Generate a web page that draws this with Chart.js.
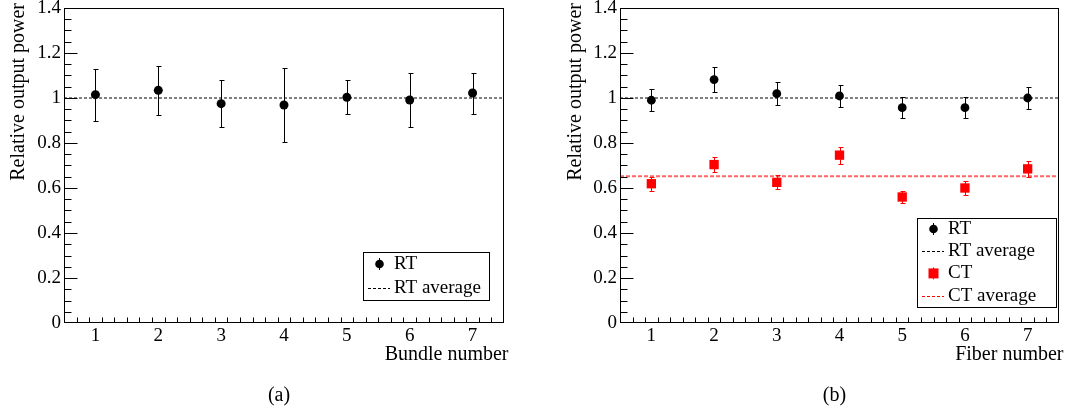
<!DOCTYPE html>
<html><head><meta charset="utf-8">
<script src="https://cdn.jsdelivr.net/npm/chart.js@4.4.1/dist/chart.umd.min.js"></script>
<style>
html,body{margin:0;padding:0;background:#fff;}
#wrap{position:relative;width:1069px;height:412px;overflow:hidden;background:#fff;}
canvas{position:absolute;top:0;}
#ca{left:0;} #cb{left:535px;}
</style></head><body>
<div id="wrap"><canvas id="ca" width="535" height="412"></canvas><canvas id="cb" width="534" height="412"></canvas></div>
<script>
// ---- data (a): bundles ----
const bundleNumbers = [1, 2, 3, 4, 5, 6, 7];
const bundleRT = [1.015, 1.034, 0.975, 0.969, 1.003, 0.991, 1.022];
const bundleRTErr = [0.115, 0.109, 0.105, 0.164, 0.076, 0.118, 0.091];
const bundleRTAverage = 1.0;

// ---- data (b): fibers ----
const fiberNumbers = [1, 2, 3, 4, 5, 6, 7];
const fiberRT = [0.990, 1.082, 1.019, 1.009, 0.957, 0.957, 1.000];
const fiberRTErr = [0.048, 0.055, 0.051, 0.050, 0.047, 0.047, 0.050];
const fiberCT = [0.619, 0.704, 0.625, 0.746, 0.560, 0.600, 0.685];
const fiberCTErr = [0.031, 0.035, 0.031, 0.038, 0.028, 0.029, 0.034];
const fiberRTAverage = 1.0;
const fiberCTAverage = 0.652;

// ---- axes / text ----
const xTickValues = [1, 2, 3, 4, 5, 6, 7];
const xTickLabels = ['1', '2', '3', '4', '5', '6', '7'];
const yTickValues = [0, 0.2, 0.4, 0.6, 0.8, 1, 1.2, 1.4];
const yTickLabels = ['0', '0.2', '0.4', '0.6', '0.8', '1', '1.2', '1.4'];
const xRange = [0.5, 7.5];
const yRange = [0, 1.4];
const xMinorStep = 0.2;
const yMinorStep = 0.05;
const yAxisTitle = 'Relative output power';
const xTitleA = 'Bundle number';
const xTitleB = 'Fiber number';
const captionA = '(a)';
const captionB = '(b)';
const legendRT = 'RT';
const legendRTAvg = 'RT average';
const legendCT = 'CT';
const legendCTAvg = 'CT average';

const FONT = "'Liberation Serif', 'Times New Roman', serif";
const RED = '#ff0000';

function pts(xs, ys) { return xs.map((x, i) => ({x: x, y: ys[i]})); }

const rootPlugin = {
  id: 'rootStyle',
  beforeDatasetsDraw(chart, args, o) {
    const ctx = chart.ctx, xs = chart.scales.x, ys = chart.scales.y;
    ctx.save();
    (o.errorBars || []).forEach(eb => {
      ctx.strokeStyle = eb.color; ctx.lineWidth = 1;
      eb.x.forEach((xv, i) => {
        const px = Math.round(xs.getPixelForValue(xv)) + 0.5;
        const y1 = Math.round(ys.getPixelForValue(eb.y[i] - eb.err[i])) + 0.5;
        const y2 = Math.round(ys.getPixelForValue(eb.y[i] + eb.err[i])) + 0.5;
        ctx.beginPath();
        ctx.moveTo(px, y1); ctx.lineTo(px, y2);
        ctx.moveTo(px - 2, y1); ctx.lineTo(px + 3, y1);
        ctx.moveTo(px - 2, y2); ctx.lineTo(px + 3, y2);
        ctx.stroke();
      });
    });
    ctx.restore();
  },
  afterDraw(chart, args, o) {
    const ctx = chart.ctx, xs = chart.scales.x, ys = chart.scales.y;
    const a = chart.chartArea;
    const L = a.left + 0.5, R = a.right - 0.5, T = a.top + 0.5, B = a.bottom - 0.5;
    ctx.save();
    // frame
    ctx.strokeStyle = '#000'; ctx.lineWidth = 1;
    ctx.strokeRect(L, T, R - L, B - T);
    // x ticks
    ctx.beginPath();
    for (let v = xRange[0] + xMinorStep; v < xRange[1] - 1e-6; v += xMinorStep) {
      const isMajor = Math.abs(v - Math.round(v)) < 1e-6;
      const px = Math.round(xs.getPixelForValue(v)) + 0.5;
      ctx.moveTo(px, B); ctx.lineTo(px, B - (isMajor ? 9 : 5));
    }
    // y ticks
    for (let v = yRange[0] + yMinorStep; v < yRange[1] - 1e-6; v += yMinorStep) {
      const isMajor = Math.abs(v * 5 - Math.round(v * 5)) < 1e-6;
      const py = Math.round(ys.getPixelForValue(v)) + 0.5;
      ctx.moveTo(L, py); ctx.lineTo(L + (isMajor ? 13 : 7), py);
    }
    ctx.stroke();

    ctx.fillStyle = '#000';
    // y title
    ctx.save();
    ctx.font = '20px ' + FONT;
    ctx.translate(a.left - o.yTitleOffset, 3);
    ctx.rotate(-Math.PI / 2);
    ctx.textAlign = 'right'; ctx.textBaseline = 'alphabetic';
    ctx.fillText(yAxisTitle, 0, 0);
    ctx.restore();
    // x title
    ctx.font = '20px ' + FONT;
    ctx.textAlign = 'right'; ctx.textBaseline = 'alphabetic';
    ctx.fillText(o.xTitle, a.right + 4.5, 360);
    // caption
    ctx.textAlign = 'center'; ctx.textBaseline = 'middle';
    ctx.fillText(o.caption, (a.left + a.right) / 2 - 5, 396);

    // legend
    const lg = o.legend;
    ctx.fillStyle = '#fff';
    ctx.fillRect(lg.x, lg.y, lg.w, lg.h);
    ctx.strokeStyle = '#000'; ctx.lineWidth = 1;
    ctx.strokeRect(lg.x + 0.5, lg.y + 0.5, lg.w, lg.h);
    ctx.font = '19px ' + FONT;
    ctx.textAlign = 'left'; ctx.textBaseline = 'middle';
    lg.entries.forEach((e, i) => {
      const cy = lg.y + lg.first + i * lg.step;
      const mx = lg.x + 16.5;
      if (e.kind === 'circle' || e.kind === 'rect') {
        ctx.strokeStyle = e.color; ctx.lineWidth = 1;
        ctx.beginPath(); ctx.moveTo(mx, cy - 6); ctx.lineTo(mx, cy + 6); ctx.stroke();
        ctx.fillStyle = e.color;
        ctx.beginPath();
        if (e.kind === 'circle') ctx.arc(mx, cy, 4.3, 0, Math.PI * 2);
        else ctx.rect(mx - 5, cy - 5, 10, 10);
        ctx.fill();
      } else {
        ctx.strokeStyle = e.color; ctx.lineWidth = 1;
        ctx.setLineDash([3, 2]);
        ctx.beginPath(); ctx.moveTo(lg.x + 5, Math.round(cy) + 0.5); ctx.lineTo(lg.x + 27, Math.round(cy) + 0.5); ctx.stroke();
        ctx.setLineDash([]);
      }
      ctx.fillStyle = '#000';
      ctx.fillText(e.label, lg.x + 31, cy);
    });
    ctx.restore();
  }
};

function makeChart(canvas, datasets, plug, yWidth, padRight) {
  return new Chart(canvas, {
    type: 'scatter',
    data: { datasets: datasets },
    plugins: [rootPlugin],
    options: {
      responsive: false, animation: false, devicePixelRatio: 1, events: [],
      layout: { padding: { left: 0, right: padRight, top: 8, bottom: 0 } },
      plugins: { legend: { display: false }, tooltip: { enabled: false }, rootStyle: plug },
      scales: {
        x: {
          type: 'linear', min: xRange[0], max: xRange[1],
          grid: { display: false, drawTicks: false }, border: { display: false },
          afterBuildTicks: s => { s.ticks = xTickValues.map(v => ({ value: v })); },
          afterFit: s => { s.height = 89; s.paddingLeft = 0; s.paddingRight = 0; },
          ticks: {
            padding: 4, color: '#000', maxRotation: 0, autoSkip: false,
            font: { family: FONT, size: 19, lineHeight: 1 },
            callback: (v) => { const i = xTickValues.indexOf(v); return i >= 0 ? xTickLabels[i] : ''; }
          }
        },
        y: {
          type: 'linear', min: yRange[0], max: yRange[1],
          grid: { display: false, drawTicks: false }, border: { display: false },
          afterBuildTicks: s => { s.ticks = yTickValues.map(v => ({ value: v })); },
          afterFit: s => { s.width = yWidth; s.paddingTop = 0; s.paddingBottom = 0; },
          ticks: {
            padding: 3, color: '#000', autoSkip: false,
            font: { family: FONT, size: 19, lineHeight: 1 },
            callback: (v) => { const i = yTickValues.findIndex(t => Math.abs(t - v) < 1e-9); return i >= 0 ? yTickLabels[i] : ''; }
          }
        }
      }
    }
  });
}

function avgLine(val, color, width, dash) {
  return { type: 'line', data: [{x: xRange[0], y: val}, {x: xRange[1], y: val}],
    borderColor: color, borderWidth: width, borderDash: dash, pointRadius: 0, fill: false, order: 2 };
}

// (a)
makeChart(document.getElementById('ca'), [
  { label: legendRT, data: pts(bundleNumbers, bundleRT), pointStyle: 'circle', pointRadius: 4.5,
    backgroundColor: '#000', borderColor: '#000', borderWidth: 0, order: 0 },
  avgLine(bundleRTAverage, '#000', 1, [3, 2])
], {
  errorBars: [{ x: bundleNumbers, y: bundleRT, err: bundleRTErr, color: '#000' }],
  yTitleOffset: 40.5, xTitle: xTitleA, caption: captionA,
  legend: { x: 363, y: 252, w: 126, h: 48, first: 12, step: 24,
    entries: [ { kind: 'circle', color: '#000', label: legendRT },
               { kind: 'line', color: '#000', label: legendRTAvg } ] }
}, 64, 31);

// (b)
makeChart(document.getElementById('cb'), [
  { label: legendRT, data: pts(fiberNumbers, fiberRT), pointStyle: 'circle', pointRadius: 4.4,
    backgroundColor: '#000', borderColor: '#000', borderWidth: 0, order: 0 },
  { label: legendCT, data: pts(fiberNumbers, fiberCT), pointStyle: 'rect', pointRadius: 6.6,
    backgroundColor: RED, borderColor: RED, borderWidth: 0, order: 0 },
  avgLine(fiberRTAverage, '#000', 1, [3, 2]),
  avgLine(fiberCTAverage, 'rgba(255,0,0,0.6)', 2, [4, 2])
], {
  errorBars: [{ x: fiberNumbers, y: fiberRT, err: fiberRTErr, color: '#000' },
              { x: fiberNumbers, y: fiberCT, err: fiberCTErr, color: RED }],
  yTitleOffset: 39, xTitle: xTitleB, caption: captionB,
  legend: { x: 917 - 535, y: 218, w: 139, h: 89, first: 11, step: 22.2,
    entries: [ { kind: 'circle', color: '#000', label: legendRT },
               { kind: 'line', color: '#000', label: legendRTAvg },
               { kind: 'rect', color: RED, label: legendCT },
               { kind: 'line', color: RED, label: legendCTAvg } ] }
}, 85, 10);
</script>
</body></html>
